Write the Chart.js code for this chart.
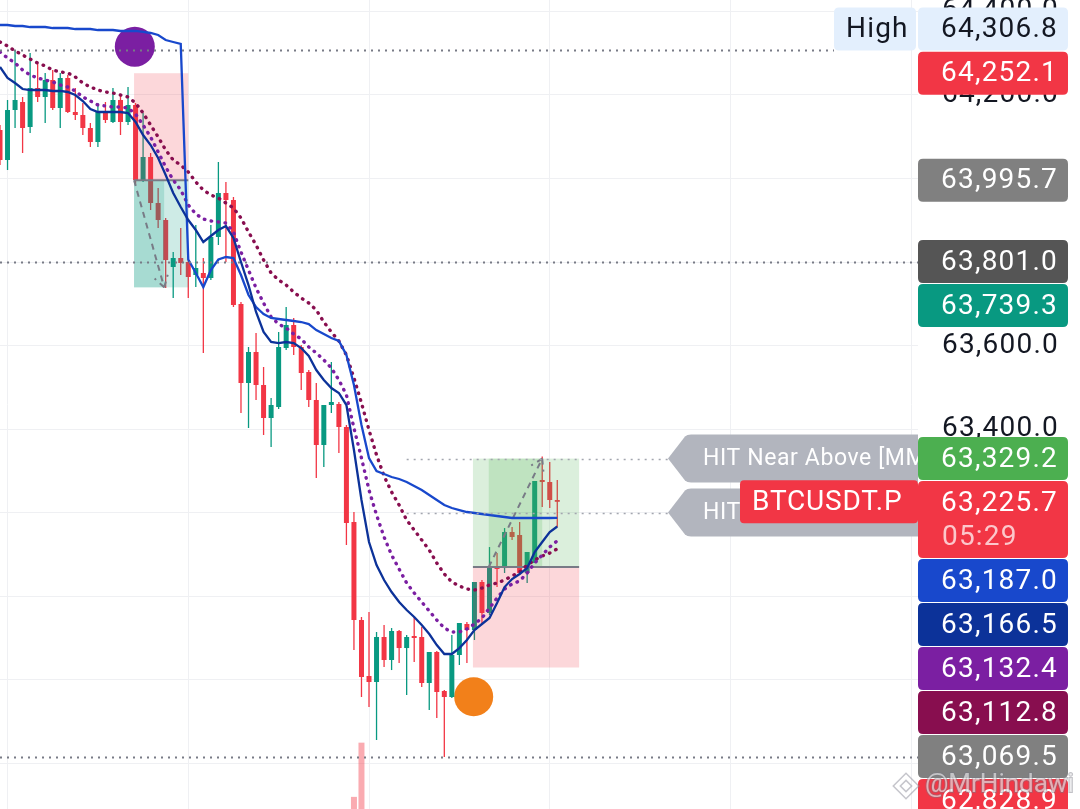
<!DOCTYPE html>
<html>
<head>
<meta charset="utf-8">
<title>BTCUSDT.P</title>
<style>
  html, body { margin: 0; padding: 0; background: #ffffff; }
  #wrap { width: 1080px; height: 809px; position: relative; }
</style>
<script src="https://cdn.jsdelivr.net/npm/chart.js@4.4.1/dist/chart.umd.min.js"></script>
</head>
<body>
<div id="wrap"><canvas id="chart" width="1080" height="809"></canvas></div>
<script>
// 5m candles, index 0 = leftmost visible bar
const opens = [64116.1, 64044.3, 64164.0, 64183.2, 64123.3, 64216.7, 64195.2, 64235.9, 64168.8, 64240.7,
  64159.3, 64152.1, 64120.9, 64087.4, 64159.3, 64135.3, 64188.0, 64135.3, 64176.0, 63996.4,
  64051.5, 63941.3, 63900.6, 63788.0, 63809.6, 63800.0, 63768.9, 63773.7, 63761.7, 63859.9,
  63965.3, 63948.5, 63699.4, 63510.2, 63584.5, 63505.4, 63426.4, 63452.7, 63594.0, 63649.1,
  63596.4, 63536.6, 63469.5, 63361.7, 63457.5, 63459.9, 63404.8, 63177.3, 62942.6, 62808.5,
  62794.1, 62901.9, 62846.8, 62916.3, 62875.5, 62904.3, 62901.9, 62791.7, 62866.0, 62772.6,
  62758.2, 62858.8, 62933.0, 62918.7, 63033.6, 62959.4, 63069.5, 63067.1, 63153.4, 63146.2,
  63055.2, 63079.1, 63277.9, 63273.1, 63230.0];
const highs = [64128.1, 64188.0, 64306.8, 64195.2, 64300.6, 64276.6, 64252.7, 64259.8, 64252.7, 64247.9,
  64216.7, 64180.8, 64132.9, 64180.8, 64183.2, 64216.7, 64200.0, 64219.1, 64180.8, 64156.9,
  64061.1, 63977.2, 63905.4, 63824.0, 63881.4, 63821.6, 63888.6, 63809.6, 63888.6, 64039.5,
  63991.6, 63955.7, 63704.2, 63596.4, 63630.0, 63548.5, 63474.3, 63632.4, 63692.2, 63665.9,
  63601.2, 63541.3, 63510.2, 63457.5, 63560.5, 63464.7, 63409.6, 63201.3, 62949.8, 62961.8,
  62913.9, 62930.6, 62923.4, 62918.7, 62906.7, 62949.8, 62925.8, 62866.0, 62868.4, 62775.0,
  62906.7, 62935.4, 62937.8, 63033.6, 63038.4, 63117.4, 63103.1, 63162.9, 63165.3, 63177.3,
  63105.5, 63275.5, 63334.0, 63321.0, 63277.9];
const lows = [64032.3, 64020.3, 64120.9, 64061.1, 64109.0, 64183.2, 64132.9, 64164.0, 64120.9, 64156.9,
  64140.1, 64104.2, 64075.4, 64075.4, 64132.9, 64132.9, 64104.2, 64128.1, 63984.4, 63991.6,
  63924.5, 63881.4, 63737.7, 63713.8, 63768.9, 63713.8, 63740.1, 63582.1, 63756.9, 63840.7,
  63800.0, 63692.2, 63438.4, 63402.4, 63469.5, 63385.7, 63356.9, 63447.9, 63589.2, 63577.3,
  63493.4, 63452.7, 63282.7, 63309.0, 63438.4, 63342.6, 63122.2, 62870.7, 62758.2, 62734.2,
  62655.2, 62830.0, 62822.8, 62839.6, 62763.0, 62842.0, 62782.1, 62727.0, 62707.9, 62614.5,
  62755.8, 62834.8, 62839.6, 62894.7, 62935.4, 62954.6, 63021.6, 63055.2, 63134.2, 63050.4,
  63031.2, 63079.1, 63213.2, 63210.8, 63165.3];
const closes = [64044.3, 64164.0, 64188.0, 64120.9, 64216.7, 64195.2, 64235.9, 64168.8, 64240.7, 64159.3,
  64152.1, 64120.9, 64087.4, 64159.3, 64140.1, 64188.0, 64135.3, 64176.0, 63996.4, 64051.5,
  63941.3, 63900.6, 63804.8, 63809.6, 63797.6, 63764.1, 63785.6, 63761.7, 63859.9, 63965.3,
  63948.5, 63697.0, 63510.2, 63584.5, 63505.4, 63426.4, 63457.5, 63596.4, 63649.1, 63596.4,
  63534.2, 63469.5, 63361.7, 63457.5, 63464.7, 63404.8, 63174.9, 62942.6, 62806.1, 62794.1,
  62901.9, 62846.8, 62916.3, 62875.5, 62901.9, 62899.5, 62791.7, 62866.0, 62770.2, 62758.2,
  62858.8, 62935.4, 62918.7, 63033.6, 62959.4, 63067.1, 63064.7, 63153.4, 63141.4, 63055.2,
  63105.5, 63275.5, 63273.1, 63230.0, 63225.7];

// moving averages drawn on the chart
const maNavy = [64267.0, 64240.7, 64228.7, 64214.3, 64211.9, 64211.9, 64211.9, 64209.6, 64209.6, 64207.2,
  64200.0, 64185.6, 64166.4, 64159.3, 64159.3, 64159.3, 64159.3, 64156.9, 64135.3, 64104.2,
  64080.2, 64049.1, 64008.4, 63965.3, 63931.7, 63900.6, 63876.6, 63847.9, 63862.3, 63876.6,
  63886.2, 63857.5, 63800.0, 63744.9, 63680.3, 63632.4, 63608.4, 63606.0, 63608.4, 63606.0,
  63594.0, 63574.9, 63541.3, 63517.4, 63498.2, 63486.3, 63457.5, 63349.7, 63230.0, 63129.4,
  63074.3, 63038.4, 63009.7, 62985.7, 62966.5, 62949.8, 62930.6, 62909.1, 62882.7, 62861.2,
  62861.2, 62875.5, 62894.7, 62918.7, 62933.0, 62947.4, 62983.3, 63021.6, 63040.8, 63052.8,
  63067.1, 63105.5, 63129.4, 63153.4, 63166.5];
const maBlue = [64367.6, 64367.6, 64365.2, 64365.2, 64362.8, 64362.8, 64362.8, 64360.4, 64360.4, 64360.4,
  64358.0, 64358.0, 64358.0, 64355.6, 64355.6, 64355.6, 64353.3, 64353.3, 64353.3, 64350.9,
  64348.5, 64343.7, 64331.7, 64326.9, 64322.1, 63806.0, 63773.7, 63740.1, 63780.8, 63806.0,
  63812.0, 63809.6, 63768.9, 63721.0, 63692.2, 63675.5, 63665.9, 63663.5, 63661.1, 63658.7,
  63656.3, 63651.5, 63637.1, 63627.6, 63618.0, 63610.8, 63577.3, 63505.4, 63409.6, 63330.6,
  63299.5, 63292.3, 63285.1, 63280.3, 63273.1, 63263.5, 63253.9, 63242.0, 63230.0, 63218.0,
  63210.8, 63206.0, 63201.3, 63198.9, 63196.5, 63194.1, 63191.7, 63189.3, 63186.9, 63186.9,
  63186.9, 63186.9, 63186.9, 63186.9, 63187.0];
const maPurple = [64303.0, 64288.6, 64276.6, 64259.8, 64247.9, 64240.7, 64235.9, 64231.1, 64223.9, 64219.1,
  64209.6, 64195.2, 64185.6, 64176.0, 64173.6, 64171.2, 64171.2, 64168.8, 64154.5, 64128.1,
  64099.4, 64063.5, 64027.5, 63996.4, 63972.4, 63936.5, 63915.0, 63903.0, 63898.2, 63895.8,
  63893.4, 63871.9, 63824.0, 63780.8, 63737.7, 63701.8, 63668.3, 63651.5, 63641.9, 63627.5,
  63615.6, 63596.4, 63582.1, 63565.3, 63546.1, 63517.4, 63481.5, 63402.4, 63330.6, 63253.9,
  63194.1, 63141.4, 63098.3, 63064.7, 63031.2, 63007.3, 62985.7, 62964.2, 62942.6, 62923.4,
  62913.9, 62913.9, 62921.0, 62933.0, 62947.4, 62971.3, 62995.3, 63016.8, 63028.9, 63036.0,
  63055.2, 63079.1, 63098.3, 63117.4, 63132.4];
const maMaroon = [64326.9, 64317.3, 64305.4, 64295.8, 64286.2, 64276.6, 64269.4, 64259.8, 64255.1, 64252.7,
  64243.1, 64228.7, 64219.1, 64211.9, 64207.2, 64204.8, 64200.0, 64195.2, 64180.8, 64156.9,
  64128.1, 64099.4, 64068.2, 64044.3, 64032.3, 64015.6, 63991.6, 63972.4, 63960.5, 63953.3,
  63941.3, 63929.3, 63905.4, 63871.9, 63840.7, 63804.8, 63773.7, 63756.9, 63744.9, 63728.2,
  63713.8, 63701.8, 63685.0, 63656.3, 63632.4, 63610.8, 63577.3, 63522.2, 63462.3, 63397.6,
  63337.8, 63287.5, 63249.2, 63218.0, 63182.1, 63158.1, 63134.2, 63110.2, 63079.1, 63052.8,
  63033.6, 63024.0, 63016.8, 63014.4, 63019.2, 63026.4, 63031.2, 63038.4, 63048.0, 63057.6,
  63074.3, 63086.3, 63095.9, 63103.1, 63112.8];

// only the two tallest volume bars reach into view
const volumeIndex = [47, 48];
const volumeValues = [15, 82];

// hour marks (every 24 bars)
const timeTicks = [1, 25, 49, 73, 97, 121];

// position tools
const shortTrade = { start: 17.8, fill: 17.8, exit: 21.8, end: 25, entry: 63995.7, stop: 64252.1, target: 63739.3 };
const longTrade = { start: 62.8, fill: 64.9, exit: 72, end: 76.9, entry: 63069.5, stop: 62828.9, target: 63329.2 };

const keyLevel = 63801.0;
const hitLevels = [63329.2, 63200.0];
const hitTexts = ['HIT Near Above [MMA]', 'HIT Near Below [MMA]'];
const hitStart = 54;
const signalDots = [{ x: 17.9, y: 64315.7 }, { x: 62.9, y: 62758.9 }];
const symbol = 'BTCUSDT.P';
const countdown = '05:29';

const highLevel = Math.max(...highs);
const lowLevel = Math.min(...lows);
const lastPrice = closes[closes.length - 1];

const RED = '#f23645', GREEN = '#089981', GREY = '#787b86', GRID = '#eff0f3', TEXT = '#131722';
const FONT = 'Roboto, "Noto Sans", sans-serif';
const SPACING = '1.2px';
const LABEL_H = 43;

const labelPrices = [shortTrade.stop, shortTrade.entry, keyLevel, shortTrade.target, longTrade.target,
  lastPrice, maBlue[maBlue.length - 1], maNavy[maNavy.length - 1], maPurple[maPurple.length - 1],
  maMaroon[maMaroon.length - 1], longTrade.entry, longTrade.stop];
const labelColors = [RED, '#808080', '#555555', GREEN, '#4caf50', RED, '#1848cc', '#0c3299', '#7b1fa2', '#880e4f', '#808080', RED];

const fmt = v => v.toLocaleString('en-US', { minimumFractionDigits: 1, maximumFractionDigits: 1 });
const candleColors = opens.map((o, i) => closes[i] >= o ? GREEN : RED);
const series = arr => arr.map((v, i) => ({ x: i, y: v }));

function rr(ctx, x, y, w, h, r) {
    ctx.beginPath();
    ctx.moveTo(x + r, y);
    ctx.lineTo(x + w - r, y);
    ctx.quadraticCurveTo(x + w, y, x + w, y + r);
    ctx.lineTo(x + w, y + h - r);
    ctx.quadraticCurveTo(x + w, y + h, x + w - r, y + h);
    ctx.lineTo(x + r, y + h);
    ctx.quadraticCurveTo(x, y + h, x, y + h - r);
    ctx.lineTo(x, y + r);
    ctx.quadraticCurveTo(x, y, x + r, y);
    ctx.closePath();
}

// where each price label ends up on the axis (pushed down when they would overlap)
function labelBoxes(yScale) {
    const boxes = [];
    const yh = yScale.getPixelForValue(highLevel);
    boxes.push({ top: yh - LABEL_H, h: LABEL_H, high: true });
    let prevBottom = -Infinity;
    labelPrices.forEach((p, k) => {
        const yc = yScale.getPixelForValue(p);
        const isLast = p === lastPrice;
        const h = isLast ? LABEL_H + 34 : LABEL_H;
        const top = Math.max(yc - LABEL_H / 2, prevBottom + 1);
        boxes.push({ top, h, price: p, color: labelColors[k], isLast });
        prevBottom = top + h;
    });
    return boxes;
}

function drawPositions(chart) {
    const { ctx, chartArea, scales: { x, y } } = chart;
    ctx.save();
    ctx.beginPath();
    ctx.rect(chartArea.left, chartArea.top, chartArea.width, chartArea.height);
    ctx.clip();
    [[shortTrade, 'rgba(8,153,129,0.2)'], [longTrade, 'rgba(76,175,80,0.2)']].forEach(([p, profit]) => {
        const x0 = x.getPixelForValue(p.start), x1 = x.getPixelForValue(p.end);
        const yE = y.getPixelForValue(p.entry), yS = y.getPixelForValue(p.stop), yT = y.getPixelForValue(p.target);
        ctx.fillStyle = 'rgba(242,54,69,0.2)';
        ctx.fillRect(x0, Math.min(yE, yS), x1 - x0, Math.abs(yS - yE));
        ctx.fillStyle = profit;
        ctx.fillRect(x0, Math.min(yE, yT), x1 - x0, Math.abs(yT - yE));
        const xf = x.getPixelForValue(p.fill), xh = x.getPixelForValue(p.exit);
        ctx.fillRect(xf, Math.min(yE, yT), xh - xf, Math.abs(yT - yE));

        ctx.strokeStyle = GREY;
        ctx.lineWidth = 2;
        ctx.beginPath();
        ctx.moveTo(x0, yE);
        ctx.lineTo(x1, yE);
        ctx.stroke();

        // price path from fill to exit
        const ax = xf, ay = yE, bx = xh, by = yT;
        ctx.setLineDash([6, 5]);
        ctx.beginPath();
        ctx.moveTo(ax, ay);
        ctx.lineTo(bx, by);
        ctx.stroke();
        const ang = Math.atan2(by - ay, bx - ax);
        ctx.beginPath();
        [-0.55, 0.55].forEach(d => {
            ctx.moveTo(bx, by);
            ctx.lineTo(bx - 13 * Math.cos(ang + d), by - 13 * Math.sin(ang + d));
        });
        ctx.stroke();
        ctx.setLineDash([]);
    });
    ctx.restore();
}

function dotted(ctx, x0, x1, yy) {
    ctx.beginPath();
    ctx.moveTo(x0, Math.round(yy) + 0.5);
    ctx.lineTo(x1, Math.round(yy) + 0.5);
    ctx.stroke();
}

function drawLevels(chart) {
    const { ctx, chartArea, scales: { x, y } } = chart;
    const right = chartArea.right;
    ctx.save();
    ctx.strokeStyle = GREY;
    ctx.lineWidth = 2;
    ctx.setLineDash([2, 5]);
    dotted(ctx, chartArea.left, right - 84, y.getPixelForValue(highLevel));
    dotted(ctx, chartArea.left, right, y.getPixelForValue(keyLevel));
    dotted(ctx, chartArea.left, right, y.getPixelForValue(lowLevel));
    ctx.lineWidth = 1.5;
    ctx.strokeStyle = '#a3a6af';
    hitLevels.forEach(p => dotted(ctx, x.getPixelForValue(hitStart), right - 250, y.getPixelForValue(p)));
    ctx.restore();
}

function drawTags(chart) {
    const { ctx, chartArea, scales: { y } } = chart;
    const right = chartArea.right, bodyLeft = right - 233, tip = right - 250, h = 48;
    ctx.save();
    hitLevels.forEach((p, k) => {
        const yc = y.getPixelForValue(p);
        ctx.fillStyle = '#b2b5be';
        ctx.beginPath();
        ctx.moveTo(tip, yc);
        ctx.lineTo(bodyLeft, yc - h / 2 + 2);
        ctx.quadraticCurveTo(bodyLeft + 2, yc - h / 2, bodyLeft + 6, yc - h / 2);
        ctx.lineTo(right, yc - h / 2);
        ctx.lineTo(right, yc + h / 2);
        ctx.lineTo(bodyLeft + 6, yc + h / 2);
        ctx.quadraticCurveTo(bodyLeft + 2, yc + h / 2, bodyLeft, yc + h / 2 - 2);
        ctx.closePath();
        ctx.fill();
        ctx.save();
        ctx.beginPath();
        ctx.rect(bodyLeft, yc - h / 2, right - bodyLeft, h);
        ctx.clip();
        ctx.fillStyle = '#ffffff';
        ctx.font = '23px ' + FONT;
        ctx.letterSpacing = '0.6px';
        ctx.textBaseline = 'middle';
        ctx.textAlign = 'left';
        ctx.fillText(hitTexts[k], bodyLeft + 18, yc + 1);
        ctx.restore();
    });
    const yl = y.getPixelForValue(lastPrice);
    ctx.fillStyle = RED;
    rr(ctx, right - 178, yl - 21.5, 178, 43, 4);
    ctx.fill();
    ctx.fillStyle = '#ffffff';
    ctx.font = '28px ' + FONT;
    ctx.letterSpacing = '0.8px';
    ctx.textBaseline = 'middle';
    ctx.textAlign = 'left';
    ctx.fillText(symbol, right - 166, yl + 1);
    ctx.restore();
}

function drawAxisLabels(chart) {
    const { ctx, chartArea, scales: { y } } = chart;
    const left = chartArea.right, w = 150, H = LABEL_H;
    ctx.save();
    ctx.font = '28px ' + FONT;
    ctx.letterSpacing = SPACING;
    ctx.textBaseline = 'middle';
    labelBoxes(y).forEach(b => {
        if (b.high) {
            // session high tag sits above its line
            ctx.fillStyle = '#e3effd';
            rr(ctx, left - 84, b.top, 82, H, 5);
            ctx.fill();
            rr(ctx, left, b.top, w, H, 5);
            ctx.fill();
            ctx.fillStyle = TEXT;
            ctx.textAlign = 'left';
            ctx.fillText('High', left - 72, b.top + H / 2 + 1);
            ctx.textAlign = 'right';
            ctx.fillText(fmt(highLevel), left + 140, b.top + H / 2 + 1);
            return;
        }
        ctx.fillStyle = b.color;
        rr(ctx, left, b.top, w, b.h, 5);
        ctx.fill();
        ctx.fillStyle = '#ffffff';
        ctx.textAlign = 'right';
        ctx.fillText(fmt(b.price), left + 140, b.top + H / 2 + 1);
        if (b.isLast) {
            ctx.fillStyle = 'rgba(255,255,255,0.72)';
            ctx.textAlign = 'left';
            ctx.fillText(countdown, left + 24, b.top + H + 14);
        }
    });
    ctx.restore();
}

function drawWatermark(chart) {
    const ctx = chart.ctx;
    ctx.save();
    ctx.strokeStyle = 'rgba(150,150,160,0.55)';
    ctx.lineWidth = 1.5;
    ctx.translate(906, 786);
    ctx.rotate(Math.PI / 4);
    ctx.strokeRect(-9, -9, 18, 18);
    ctx.strokeRect(-4, -4, 8, 8);
    ctx.restore();
    ctx.save();
    ctx.font = '26px ' + FONT;
    ctx.letterSpacing = '0px';
    ctx.textBaseline = 'middle';
    ctx.textAlign = 'left';
    ctx.lineWidth = 2;
    ctx.strokeStyle = 'rgba(120,120,130,0.45)';
    ctx.strokeText('@MrHindawi', 925, 785);
    ctx.fillStyle = 'rgba(255,255,255,0.55)';
    ctx.fillText('@MrHindawi', 925, 785);
    ctx.restore();
}

// tick texts that sit under a price label are not shown
function tickColor(c) {
    const ys = c.chart.scales.y;
    if (!c.tick) return TEXT;
    const py = ys.getPixelForValue(c.tick.value);
    const covered = labelBoxes(ys).some(b => py > b.top + 4.5 && py < b.top + b.h - 4.5);
    return covered ? 'rgba(0,0,0,0)' : TEXT;
}

const BODY_DATASET = 2;

const overlay = {
    id: 'overlay',
    beforeDraw(chart) {
        // wider glyph spacing for the axis text, as on the phone screenshot
        chart.ctx.letterSpacing = SPACING;
    },
    afterDatasetDraw(chart, args) {
        if (args.index === BODY_DATASET) drawPositions(chart);
    },
    afterDatasetsDraw(chart) {
        drawLevels(chart);
        drawTags(chart);
    },
    afterDraw(chart) {
        drawAxisLabels(chart);
        drawWatermark(chart);
    }
};

new Chart(document.getElementById('chart'), {
    type: 'bar',
    data: {
        datasets: [
            {
                label: 'volume', yAxisID: 'yv', order: 11, grouped: false,
                data: volumeIndex.map((i, k) => ({ x: i, y: volumeValues[k] })),
                backgroundColor: 'rgba(242,54,69,0.42)', maxBarThickness: 6, barPercentage: 1
            },
            {
                label: 'wick', order: 10, grouped: false,
                data: opens.map((o, i) => ({ x: i, y: [lows[i], highs[i]] })),
                backgroundColor: candleColors, maxBarThickness: 1.3, barPercentage: 1, minBarLength: 1
            },
            {
                label: 'body', order: 9, grouped: false,
                data: opens.map((o, i) => ({ x: i, y: [o, closes[i]] })),
                backgroundColor: candleColors, maxBarThickness: 5, barPercentage: 1, minBarLength: 1.5
            },
            {
                type: 'line', label: 'MA fast', order: 2, data: series(maNavy),
                borderColor: '#0c3299', borderWidth: 2.3, pointRadius: 0, tension: 0
            },
            {
                type: 'line', label: 'MA slow', order: 3, data: series(maBlue),
                borderColor: '#1848cc', borderWidth: 2.3, pointRadius: 0, tension: 0
            },
            {
                type: 'line', label: 'MA purple', order: 4, data: series(maPurple),
                borderColor: '#7b1fa2', borderWidth: 3.4, borderDash: [0.5, 6.5], borderCapStyle: 'round',
                pointRadius: 0, tension: 0
            },
            {
                type: 'line', label: 'MA maroon', order: 5, data: series(maMaroon),
                borderColor: '#880e4f', borderWidth: 3.4, borderDash: [0.5, 6.5], borderCapStyle: 'round',
                pointRadius: 0, tension: 0
            },
            {
                type: 'scatter', label: 'signals', order: 12, data: signalDots,
                backgroundColor: ['#7b1fa2', '#f2801a'], borderWidth: 0,
                pointRadius: [20, 19.5], pointHoverRadius: [20, 19.5]
            }
        ]
    },
    options: {
        responsive: false,
        animation: false,
        devicePixelRatio: 1,
        events: [],
        layout: { padding: 0, autoPadding: false },
        plugins: { legend: { display: false }, tooltip: { enabled: false } },
        scales: {
            x: {
                type: 'linear', min: 0, max: 121.9, offset: false,
                grid: { color: GRID, drawTicks: false, offset: false },
                border: { display: false },
                ticks: { display: false },
                afterBuildTicks: s => { s.ticks = timeTicks.map(v => ({ value: v })); },
                afterFit: s => { s.height = 0; }
            },
            y: {
                position: 'right', min: 62490, max: 64427.5,
                grid: { color: GRID, drawTicks: false },
                border: { display: false },
                ticks: {
                    stepSize: 200, includeBounds: false, padding: 24, color: tickColor,
                    font: { family: FONT, size: 28 },
                    callback: v => fmt(v)
                },
                afterFit: s => { s.width = 162; s.paddingTop = 0; s.paddingBottom = 0; }
            },
            yv: { display: false, min: 0, max: 1000 }
        }
    },
    plugins: [overlay]
});
</script>
</body>
</html>
